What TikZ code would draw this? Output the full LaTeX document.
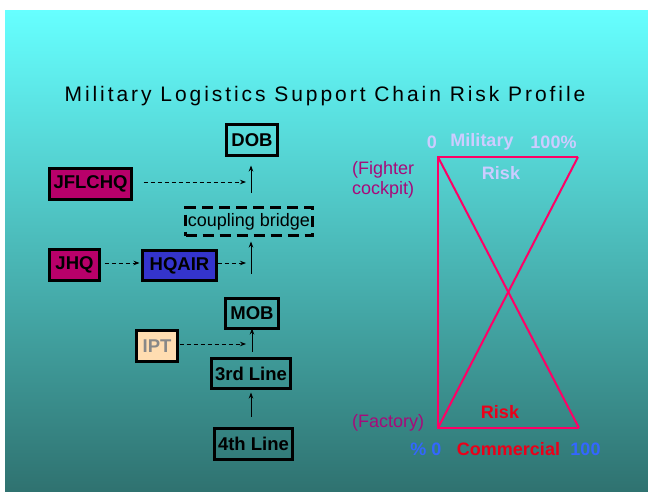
\documentclass[tikz,border=0pt]{standalone}
\usepackage{fontspec}
\setmainfont{Liberation Sans}
\newfontfamily\titlefont[LetterSpace=14]{Liberation Sans}
\usetikzlibrary{arrows.meta}
\definecolor{bgtop}{RGB}{102,255,255}
\definecolor{bgmid}{RGB}{76,192,192}
\definecolor{bgbot}{RGB}{47,114,112}
\definecolor{magbox}{RGB}{184,0,106}
\definecolor{bluebox}{RGB}{52,52,204}
\definecolor{peach}{RGB}{255,221,177}
\definecolor{iptgrey}{RGB}{136,136,136}
\definecolor{lav}{RGB}{204,204,255}
\definecolor{purp}{RGB}{168,10,122}
\definecolor{riskred}{RGB}{235,0,25}
\definecolor{pctblue}{RGB}{51,102,255}
\definecolor{xline}{RGB}{255,0,102}
\tikzset{
  boxnode/.style={draw=black, line width=3pt, inner sep=0pt, outer sep=0pt,
    font=\fontsize{18.5}{21}\selectfont\bfseries},
  bridgebox/.style={draw=black, line width=3pt, dash pattern=on 11pt off 6pt,
    inner sep=0pt, outer sep=0pt, font=\fontsize{18}{21}\selectfont},
  uparrow/.style={draw=black, line width=0.9pt, -{Stealth[length=6pt,width=4.5pt]}},
  dasharrow/.style={draw=black, line width=0.9pt, dash pattern=on 4pt off 3pt,
    -{Stealth[length=6pt,width=4.5pt]}},
  lbl/.style={inner sep=0pt, font=\fontsize{18}{21}\selectfont\bfseries},
  plbl/.style={inner sep=0pt, font=\fontsize{18}{21}\selectfont, text=purp, anchor=west},
}
\begin{document}
\begin{tikzpicture}[x=1pt,y=-1pt]
\useasboundingbox (0,0) rectangle (648,492);
\fill[white] (0,0) rectangle (648,492);
\shade[top color=bgtop, middle color=bgmid, bottom color=bgbot] (5,11) rectangle (648,492);

\node[inner sep=0pt, font=\fontsize{21}{24}\selectfont\titlefont] (title) at (325,96)
  {Military Logistics Support Chain Risk Profile};

% left chain
\node[boxnode, minimum width=51pt, minimum height=31pt] (DOB) at (252,140) {DOB};
\node[boxnode, fill=magbox, minimum width=82pt, minimum height=31pt] (JFLCHQ) at (90.5,184) {JFLCHQ};
\node[bridgebox, minimum width=127pt, minimum height=28pt] (CB) at (249,221.5) {coupling bridge};
\node[boxnode, fill=magbox, minimum width=50pt, minimum height=31pt] (JHQ) at (74.5,265) {JHQ};
\node[boxnode, fill=bluebox, minimum width=74pt, minimum height=30pt] (HQAIR) at (179.5,265.5) {HQAIR};
\node[boxnode, minimum width=53pt, minimum height=30pt] (MOB) at (252,313.5) {MOB};
\node[boxnode, fill=peach, text=iptgrey, minimum width=41pt, minimum height=31pt] (IPT) at (157,346) {IPT};
\node[boxnode, minimum width=79pt, minimum height=30pt] (L3) at (251,373.5) {3rd Line};
\node[boxnode, minimum width=78pt, minimum height=31pt] (L4) at (253.5,444) {4th Line};

\coordinate (v1) at (251,193);
\coordinate (v2) at (251,274);
\coordinate (j1) at (251,182);
\coordinate (j2) at (251,263);
\coordinate (j3) at (252,344);

\draw[uparrow, shorten >=10pt] (v1) -- (DOB.south -| v1);
\draw[uparrow, shorten >=6pt] (v2) -- (CB.south -| v2);
\draw[uparrow, shorten <=7pt] (L3.north -| MOB.south) -- (MOB.south);
\draw[uparrow, shorten <=12pt, shorten >=4pt] (L4.north -| L3.south) -- (L3.south);

\draw[dasharrow, shorten <=12pt, shorten >=5pt] (JFLCHQ.east |- j1) -- (j1);
\draw[dasharrow, shorten <=5pt, shorten >=3pt] (JHQ.east |- j2) -- (HQAIR.west |- j2);
\draw[dasharrow, shorten <=1pt, shorten >=5pt] (HQAIR.east |- j2) -- (j2);
\draw[dasharrow, shorten <=2pt, shorten >=6pt] (IPT.east |- j3) -- (j3);

% risk profile
\coordinate (tl) at (438,157);
\coordinate (tr) at (578,157);
\coordinate (bl) at (438,428);
\coordinate (br) at (579,428);
\draw[xline, line width=2pt, line join=miter] (tr) -- (tl) -- (bl) -- (br);
\draw[xline, line width=2pt] (tl) -- (br);
\draw[xline, line width=2pt] (tr) -- (bl);

\node[lbl, text=lav] (m0) at (432,142) {0};
\node[lbl, text=lav] (mil) at (482,142) {Military};
\node[lbl, text=lav] (m100) at (553.5,142) {100\%};
\node[lbl, text=lav] (riskt) at (501,173) {Risk};
\node[plbl] (fighter) at (352,170) {(Fighter};
\node[plbl] (cockpit) at (352,190) {cockpit)};
\node[plbl] (factory) at (352,423) {(Factory)};
\node[lbl, text=riskred] (riskb) at (500,412) {Risk};
\node[lbl, text=pctblue] (c0) at (426,449) {\% 0};
\node[lbl, text=riskred] (com) at (508.5,449) {Commercial};
\node[lbl, text=pctblue] (c100) at (585.5,449) {100};
\end{tikzpicture}
\end{document}
